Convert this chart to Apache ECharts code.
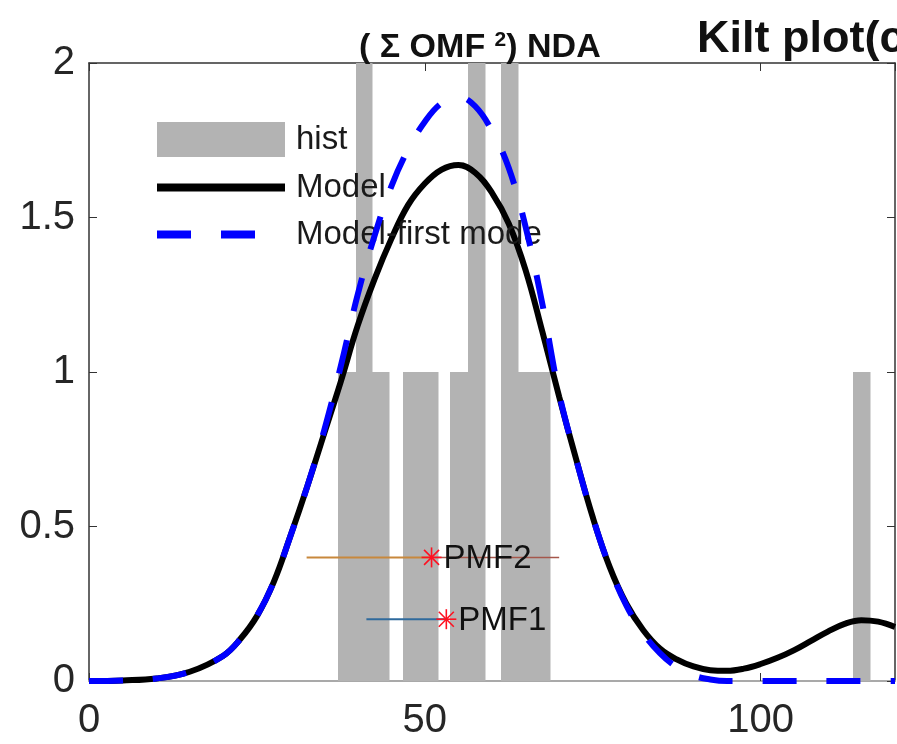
<!DOCTYPE html>
<html><head><meta charset="utf-8">
<script src="https://cdn.jsdelivr.net/npm/echarts@6/dist/echarts.min.js"></script>
<style>html,body{margin:0;padding:0;background:#fff}#c{width:897px;height:744px}</style>
</head><body><div id="c"></div>
<script>
// ---- data ----
const titleMain = 'Kilt plot(c';
const titleSub = '( Σ OMF {s|2}) NDA';
const seriesNames = ['hist', 'Model', 'Model-first mode'];
// histogram bins: [left edge, right edge, count]
const histLeft  = [37.1, 39.7, 42.2, 46.7, 49.3, 53.8, 56.4, 61.3, 63.8, 66.3, 113.8];
const histRight = [39.7, 42.2, 44.6, 49.3, 51.9, 56.4, 59.0, 63.8, 66.3, 68.7, 116.3];
const histCount = [1, 2, 1, 1, 1, 1, 2, 2, 1, 1, 1];
// model curves
const curveX = [0,5,10,15,20,22.5,25,27.5,30,32.5,35,37.5,40,42.5,45,47.5,50,52.5,55,57.5,60,62.5,65,67.5,70,72.5,75,77.5,80,82.5,85,87.5,90,92.5,95,97.5,100,102.5,105,107.5,110,112.5,115,117.5,120];
const modelY = [0,0.002,0.008,0.03,0.082,0.135,0.21,0.32,0.47,0.63,0.8,0.97,1.15,1.3,1.43,1.54,1.61,1.655,1.67,1.645,1.58,1.48,1.33,1.13,0.92,0.72,0.53,0.37,0.25,0.165,0.105,0.07,0.047,0.035,0.033,0.04,0.055,0.075,0.1,0.13,0.16,0.185,0.197,0.192,0.175];
const firstModeY = [0,0.002,0.008,0.03,0.082,0.135,0.21,0.32,0.47,0.63,0.81,1.02,1.25,1.44,1.6,1.72,1.81,1.87,1.89,1.86,1.78,1.66,1.47,1.22,0.93,0.72,0.53,0.37,0.245,0.155,0.09,0.045,0.018,0.005,0,0,0,0,0,0,0,0,0,0,0];
// PMF markers
const pmfNames  = ['PMF1', 'PMF2'];
const pmfLow    = [41.3, 32.4];
const pmfCenter = [53.2, 51.0];
const pmfHigh   = [53.2, 70.0];
const pmfLevel  = [0.2, 0.4];
const xTickLabels = [0, 50, 100];
const yTickLabels = [0, 0.5, 1, 1.5, 2];

// ---- styles ----
const FONT = '"Liberation Sans", Arial, Helvetica, sans-serif';
const pmfStyle = {
  PMF1: {left: '#2f6a9c', right: '#2f6a9c'},
  PMF2: {left: '#c8883c', right: '#a5574c'}
};

const chart = echarts.init(document.getElementById('c'), null, {renderer: 'canvas'});
const histData = histLeft.map((l, i) => [l, histRight[i], histCount[i]]);
const pmfData = pmfNames.map((n, i) => [pmfLow[i], pmfCenter[i], pmfHigh[i], pmfLevel[i]]);
const tickFmt = (list) => (v) => (list.indexOf(+v) >= 0 ? String(v) : '');

chart.setOption({
  animation: false,
  backgroundColor: '#fff',
  title: [
    {text: titleSub, left: 354, top: 25, textStyle: {fontSize: 34, fontWeight: 'bold', color: '#111', fontFamily: FONT,
      rich: {s: {fontSize: 21, fontWeight: 'bold', color: '#111', fontFamily: FONT, verticalAlign: 'top', padding: [0,0,14,0]}}}},
    {text: titleMain, left: 692, top: 12, textStyle: {fontSize: 45, fontWeight: 'bold', color: '#111', fontFamily: FONT}}
  ],
  grid: {left: 89, right: 2, top: 63, bottom: 63, show: false, containLabel: false, outerBoundsMode: 'none'},
  legend: {
    orient: 'vertical', left: 153, top: 122, padding: 0, itemWidth: 128, itemHeight: 35, itemGap: 14,
    textStyle: {fontSize: 33, color: '#1a1a1a', fontFamily: FONT, padding: [0,0,0,6]},
    data: [
      {name: seriesNames[0], icon: 'rect'},
      {name: seriesNames[1], itemStyle: {opacity: 0}, lineStyle: {width: 8}},
      {name: seriesNames[2], itemStyle: {opacity: 0}, lineStyle: {width: 8, type: [34, 30]}}
    ]
  },
  xAxis: [
    {type: 'value', min: 0, max: 120, interval: 50, position: 'bottom',
      axisLine: {show: true, onZero: false, lineStyle: {color: '#a9a9a9', width: 2}},
      axisTick: {show: true, inside: true, length: 8, lineStyle: {color: '#333', width: 1}},
      axisLabel: {fontSize: 40, color: '#262626', margin: 20, fontFamily: FONT, showMaxLabel: false, formatter: tickFmt(xTickLabels)},
      splitLine: {show: false}},
    {type: 'value', min: 0, max: 120, interval: 50, position: 'top',
      axisLine: {show: true, onZero: false, lineStyle: {color: '#333', width: 1.5}},
      axisTick: {show: true, inside: true, length: 8, lineStyle: {color: '#333', width: 1}},
      axisLabel: {show: false}, splitLine: {show: false}}
  ],
  yAxis: [
    {type: 'value', min: 0, max: 2, interval: 0.5, position: 'left',
      axisLine: {show: true, onZero: false, lineStyle: {color: '#333', width: 1.5}},
      axisTick: {show: true, inside: true, length: 8, lineStyle: {color: '#333', width: 1}},
      axisLabel: {fontSize: 40, color: '#262626', margin: 14, fontFamily: FONT, formatter: tickFmt(yTickLabels)},
      splitLine: {show: false}},
    {type: 'value', min: 0, max: 2, interval: 0.5, position: 'right',
      axisLine: {show: true, onZero: false, lineStyle: {color: '#333', width: 1.5}},
      axisTick: {show: true, inside: true, length: 8, lineStyle: {color: '#333', width: 1}},
      axisLabel: {show: false}, splitLine: {show: false}}
  ],
  series: [
    {
      name: seriesNames[0], type: 'custom', xAxisIndex: 0, yAxisIndex: 0, z: 1,
      itemStyle: {color: '#b3b3b3'},
      encode: {x: [0, 1], y: 2},
      data: histData,
      renderItem: function (params, api) {
        const p0 = api.coord([api.value(0), api.value(2)]);
        const p1 = api.coord([api.value(1), 0]);
        const x0 = Math.round(p0[0]), x1 = Math.round(p1[0]);
        return {type: 'rect', shape: {x: x0, y: Math.round(p0[1]), width: x1 - x0 + 0.5, height: p1[1] - Math.round(p0[1])},
          style: {fill: api.visual('color')}};
      }
    },
    {
      name: seriesNames[1], type: 'line', z: 3, symbol: 'none', showSymbol: false, smooth: 0.4,
      lineStyle: {color: '#000', width: 6}, itemStyle: {color: '#000'},
      data: curveX.map((x, i) => [x, modelY[i]])
    },
    {
      name: seriesNames[2], type: 'line', z: 4, symbol: 'none', showSymbol: false, smooth: 0.4,
      lineStyle: {color: '#0000ff', width: 6, type: [34, 30], cap: 'butt'}, itemStyle: {color: '#0000ff'},
      data: curveX.map((x, i) => [x, firstModeY[i]])
    },
    {
      name: 'pmf', type: 'custom', z: 5, silent: true,
      encode: {x: [0, 1, 2], y: 3},
      data: pmfData,
      renderItem: function (params, api) {
        const y = api.value(3);
        const lo = api.coord([api.value(0), y]);
        const c = api.coord([api.value(1), y]);
        const hi = api.coord([api.value(2), y]);
        const nm = pmfNames[params.dataIndex];
        const st = pmfStyle[nm];
        const r = 10, d = 7.5;
        const starLines = [[-r,0,r,0],[0,-r,0,r],[-d,-d,d,d],[-d,d,d,-d]].map(s => ({
          type: 'line', shape: {x1: c[0]+s[0], y1: c[1]+s[1], x2: c[0]+s[2], y2: c[1]+s[3]},
          style: {stroke: '#ff1020', lineWidth: 1.6}
        }));
        return {type: 'group', children: [
          {type: 'line', shape: {x1: lo[0], y1: lo[1], x2: c[0], y2: c[1]}, style: {stroke: st.left, lineWidth: 2}},
          {type: 'line', shape: {x1: c[0], y1: c[1], x2: hi[0], y2: hi[1]}, style: {stroke: st.right, lineWidth: 1.5}},
          {type: 'text', x: c[0] + 12, y: c[1] + 2, style: {text: nm, fontSize: 33, fontFamily: FONT, fill: '#111', verticalAlign: 'middle', align: 'left'}}
        ].concat(starLines)};
      }
    }
  ]
});
</script></body></html>
